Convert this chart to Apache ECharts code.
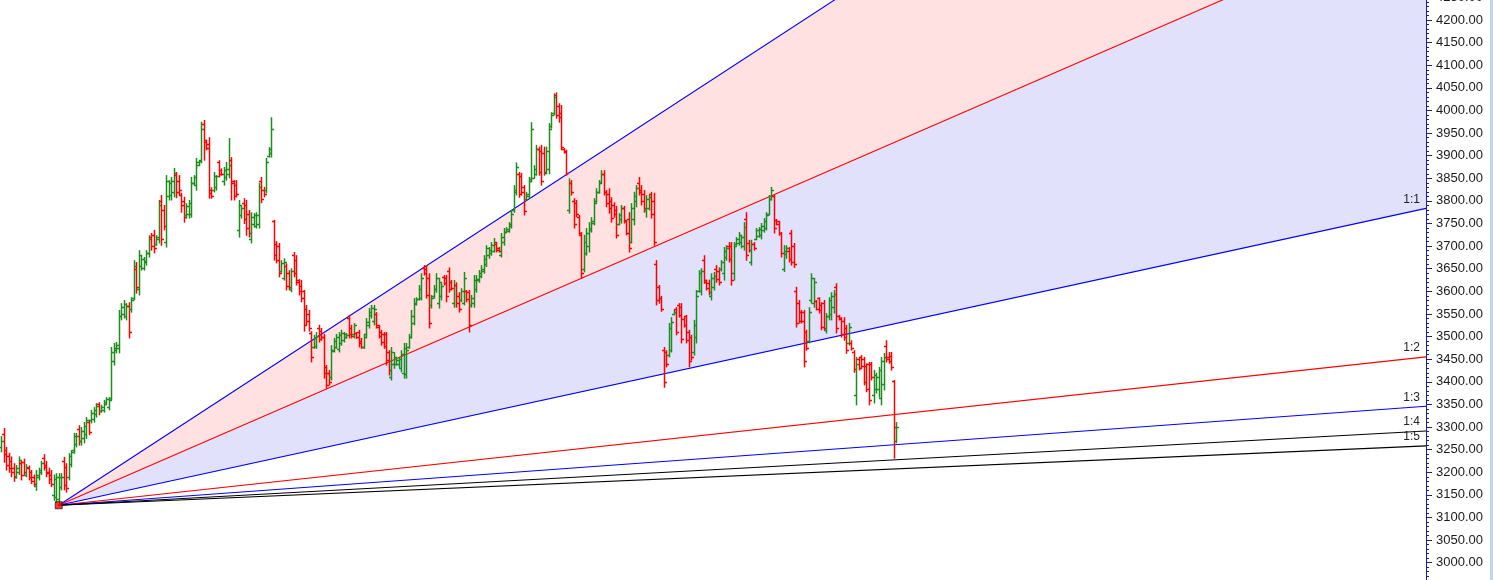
<!DOCTYPE html>
<html>
<head>
<meta charset="utf-8">
<script src="https://cdn.jsdelivr.net/npm/echarts@6/dist/echarts.min.js"></script>
<style>
html,body{margin:0;padding:0;background:#fff;}
#chart{width:1493px;height:580px;}
</style>
</head>
<body>
<div id="chart"></div>
<script>
// OHLC bars: [open, high, low, close]
const bars = [
[3255,3280,3245,3270],[3285,3298,3222,3240],[3250,3256,3205,3215],[3235,3243,3200,3210],[3225,3235,3190,3200],
[3210,3220,3180,3190],[3192,3216,3187,3210],[3200,3235,3195,3228],[3220,3225,3183,3195],[3222,3230,3195,3200],
[3195,3218,3190,3212],[3210,3215,3183,3190],[3200,3205,3175,3180],[3190,3195,3170,3175],[3170,3205,3160,3195],
[3190,3210,3183,3205],[3200,3225,3195,3220],[3232,3240,3205,3212],[3215,3225,3190,3198],[3200,3210,3175,3185],
[3195,3205,3168,3175],[3150,3195,3138,3185],[3145,3198,3133,3190],[3140,3198,3127,3190],[3168,3198,3161,3190],
[3225,3234,3161,3172],[3212,3220,3156,3165],[3190,3242,3183,3236],[3218,3249,3212,3244],[3250,3287,3242,3280],
[3262,3287,3256,3280],[3296,3304,3260,3270],[3268,3300,3260,3292],[3275,3311,3265,3302],[3285,3322,3275,3315],
[3310,3316,3283,3290],[3315,3338,3309,3332],[3318,3344,3311,3338],[3328,3353,3322,3346],[3350,3355,3327,3335],
[3336,3349,3333,3345],[3338,3360,3333,3355],[3352,3366,3349,3362],[3345,3366,3338,3360],[3365,3477,3360,3465],
[3445,3486,3437,3475],[3470,3488,3464,3482],[3475,3559,3464,3545],[3545,3574,3537,3565],[3550,3581,3541,3572],
[3545,3574,3537,3568],[3568,3576,3497,3510],[3560,3587,3554,3580],[3585,3669,3581,3655],[3650,3665,3596,3610],
[3605,3691,3592,3680],[3655,3680,3647,3672],[3652,3676,3647,3668],[3665,3691,3658,3685],[3685,3724,3676,3715],
[3720,3729,3691,3700],[3725,3736,3685,3695],[3705,3724,3702,3720],[3715,3802,3707,3790],[3800,3813,3702,3715],
[3780,3791,3736,3745],[3710,3857,3698,3845],[3810,3846,3802,3840],[3812,3853,3802,3845],[3820,3873,3809,3862],
[3858,3864,3807,3820],[3845,3857,3813,3825],[3812,3818,3775,3790],[3800,3809,3753,3765],[3768,3795,3762,3788],
[3770,3802,3762,3795],[3770,3853,3764,3840],[3840,3857,3835,3852],[3835,3895,3824,3885],[3880,3890,3878,3888],
[3890,3975,3884,3960],[3970,3979,3890,3935],[3930,3935,3913,3918],[3925,3941,3806,3818],[3825,3830,3806,3810],
[3825,3864,3820,3855],[3830,3857,3824,3855],[3885,3890,3853,3860],[3868,3872,3857,3860],[3845,3875,3835,3868],
[3852,3886,3846,3870],[3860,3939,3851,3880],[3890,3897,3802,3845],[3840,3846,3802,3810],[3835,3846,3809,3815],
[3735,3802,3720,3790],[3768,3791,3762,3785],[3795,3806,3750,3760],[3790,3802,3724,3740],[3770,3780,3720,3730],
[3715,3775,3707,3765],[3748,3773,3742,3768],[3745,3775,3740,3768],[3750,3840,3740,3830],[3845,3853,3796,3805],
[3825,3831,3809,3815],[3825,3895,3818,3885],[3900,3919,3897,3915],[3905,3985,3897,3960],[3755,3758,3669,3680],
[3705,3711,3663,3670],[3700,3707,3632,3640],[3645,3669,3642,3662],[3630,3673,3625,3665],[3655,3662,3603,3612],
[3640,3647,3603,3610],[3605,3651,3599,3645],[3680,3687,3632,3640],[3670,3680,3614,3625],[3620,3627,3592,3600],
[3612,3625,3577,3585],[3600,3603,3512,3525],[3560,3570,3526,3535],[3550,3559,3512,3518],[3508,3512,3444,3455],
[3478,3504,3474,3496],[3480,3510,3474,3502],[3520,3526,3488,3494],[3512,3519,3492,3498],[3500,3506,3408,3420],
[3432,3437,3386,3392],[3420,3426,3393,3400],[3410,3481,3404,3470],[3468,3497,3466,3490],[3478,3506,3474,3500],
[3472,3510,3466,3503],[3485,3515,3481,3508],[3492,3510,3488,3505],[3498,3508,3496,3504],[3540,3548,3497,3505],
[3520,3526,3497,3502],[3505,3530,3497,3525],[3508,3510,3496,3498],[3510,3515,3477,3485],[3490,3497,3474,3478],
[3478,3506,3474,3500],[3505,3541,3497,3532],[3525,3563,3519,3555],[3548,3570,3541,3563],[3535,3570,3526,3562],
[3550,3554,3519,3525],[3522,3526,3497,3502],[3510,3515,3481,3488],[3505,3510,3474,3480],[3505,3510,3437,3448],
[3465,3470,3415,3425],[3410,3477,3404,3465],[3440,3466,3430,3455],[3440,3453,3437,3448],[3440,3455,3432,3450],
[3430,3470,3422,3462],[3420,3486,3408,3475],[3418,3486,3408,3470],[3478,3506,3474,3500],[3500,3559,3497,3545],
[3530,3585,3526,3575],[3573,3587,3570,3582],[3582,3614,3581,3605],[3585,3640,3581,3630],[3652,3658,3636,3640],
[3650,3658,3585,3592],[3630,3640,3519,3530],[3570,3592,3563,3585],[3590,3614,3585,3605],[3605,3640,3598,3630],
[3575,3630,3563,3620],[3590,3620,3581,3612],[3632,3636,3614,3618],[3630,3636,3577,3590],[3645,3653,3598,3605],
[3620,3625,3603,3607],[3575,3625,3565,3615],[3615,3620,3565,3575],[3590,3598,3554,3560],[3580,3607,3577,3600],
[3575,3643,3570,3630],[3600,3603,3577,3582],[3598,3603,3510,3525],[3570,3592,3565,3585],[3575,3636,3565,3625],
[3605,3636,3598,3628],[3625,3647,3620,3640],[3635,3658,3630,3650],[3645,3680,3640,3672],[3660,3702,3655,3695],
[3680,3698,3673,3692],[3685,3709,3680,3702],[3690,3718,3687,3710],[3705,3709,3687,3692],[3695,3698,3687,3690],
[3680,3729,3676,3720],[3710,3740,3702,3732],[3732,3742,3731,3738],[3733,3753,3731,3748],[3745,3780,3740,3772],
[3780,3835,3775,3825],[3820,3885,3813,3875],[3860,3864,3808,3815],[3855,3862,3813,3820],[3830,3835,3769,3778],
[3805,3820,3802,3815],[3810,3853,3806,3845],[3848,3974,3842,3960],[3850,3879,3850,3870],[3860,3924,3857,3915],
[3915,3920,3857,3865],[3910,3924,3835,3845],[3905,3920,3857,3865],[3862,3920,3860,3910],[3870,3972,3860,3960],
[3965,3996,3961,3990],[3995,4038,3990,4030],[4035,4040,3983,3990],[4010,4016,3974,3985],[3995,4012,3913,3920],
[3915,3917,3906,3908],[3910,3913,3857,3862],[3780,3850,3773,3840],[3840,3846,3813,3820],[3800,3806,3740,3750],
[3795,3802,3765,3770],[3765,3769,3725,3730],[3725,3731,3629,3640],[3650,3725,3643,3710],[3685,3740,3680,3730],
[3700,3753,3687,3740],[3735,3764,3731,3755],[3752,3806,3747,3795],[3800,3828,3797,3820],[3820,3846,3817,3840],
[3842,3868,3839,3860],[3860,3868,3813,3820],[3820,3824,3787,3795],[3815,3828,3773,3785],[3800,3808,3753,3762],
[3790,3797,3764,3770],[3780,3789,3718,3725],[3750,3773,3747,3768],[3760,3791,3751,3785],[3785,3789,3751,3758],
[3755,3758,3725,3730],[3760,3775,3687,3695],[3710,3795,3707,3785],[3760,3820,3747,3810],[3800,3835,3787,3828],
[3840,3853,3813,3820],[3825,3835,3791,3800],[3815,3824,3775,3785],[3780,3813,3764,3805],[3785,3813,3780,3808],
[3815,3820,3762,3770],[3800,3818,3702,3710],[3660,3669,3570,3580],[3610,3614,3574,3585],[3585,3590,3556,3562],
[3470,3477,3388,3400],[3465,3470,3433,3440],[3460,3530,3455,3520],[3470,3543,3466,3532],[3550,3559,3548,3555],
[3560,3565,3504,3510],[3570,3574,3543,3548],[3565,3574,3486,3495],[3538,3543,3521,3526],[3545,3548,3486,3492],
[3510,3515,3433,3445],[3500,3504,3448,3455],[3465,3537,3459,3525],[3500,3603,3486,3590],[3600,3647,3599,3640],
[3600,3651,3592,3645],[3670,3680,3618,3625],[3620,3626,3603,3608],[3618,3626,3592,3598],[3590,3640,3581,3630],
[3610,3643,3603,3635],[3650,3658,3620,3628],[3645,3653,3614,3620],[3650,3669,3645,3665],[3640,3698,3625,3690],
[3675,3702,3669,3695],[3700,3709,3665,3672],[3700,3709,3614,3625],[3640,3709,3625,3700],[3705,3720,3702,3715],
[3708,3731,3702,3725],[3710,3725,3696,3720],[3700,3753,3691,3742],[3760,3775,3669,3680],[3708,3714,3687,3692],
[3665,3714,3658,3705],[3705,3709,3691,3695],[3716,3740,3714,3735],[3722,3742,3720,3738],[3725,3751,3716,3745],
[3735,3762,3731,3755],[3740,3775,3736,3768],[3772,3813,3769,3805],[3805,3831,3802,3825],[3810,3813,3729,3740],
[3758,3760,3747,3750],[3755,3756,3724,3730],[3730,3731,3676,3685],[3650,3702,3644,3690],[3682,3702,3673,3695],
[3690,3698,3665,3672],[3730,3736,3658,3665],[3700,3707,3653,3660],[3600,3610,3521,3530],[3575,3581,3530,3535],
[3555,3559,3530,3535],[3555,3559,3433,3445],[3510,3515,3470,3475],[3490,3565,3486,3555],[3580,3640,3574,3630],
[3575,3630,3565,3620],[3578,3581,3559,3562],[3585,3587,3552,3558],[3570,3576,3515,3522],[3575,3581,3515,3520],
[3515,3552,3508,3545],[3545,3587,3537,3580],[3550,3598,3537,3590],[3565,3603,3552,3595],[3610,3618,3508,3520],
[3545,3548,3537,3540],[3538,3543,3499,3505],[3535,3543,3492,3498],[3520,3526,3463,3470],[3485,3530,3481,3522],
[3485,3492,3470,3475],[3465,3470,3421,3428],[3370,3455,3349,3440],[3450,3455,3426,3430],[3455,3459,3430,3435],
[3450,3455,3393,3400],[3435,3441,3378,3385],[3440,3444,3349,3360],[3440,3444,3404,3410],[3370,3426,3353,3415],
[3385,3420,3375,3410],[3385,3433,3366,3425],[3365,3455,3349,3445],[3395,3464,3382,3455],[3480,3492,3444,3450],
[3455,3466,3441,3445],[3458,3466,3426,3432],[3402,3404,3231,3300],[3270,3311,3265,3300]
];

// Gann fan: origin bar index/price, price per bar of 1:1, ratios and labels
const fanOriginIndex = 23;
const fanOriginPrice = 3127;
const fanUnit = 1.2;
const fanRatios = [3, 2, 1, 1/2, 1/3, 1/4, 1/5];
const fanNames  = ['3:1', '2:1', '1:1', '1:2', '1:3', '1:4', '1:5'];
const fanShownLabels = ['1:1', '1:2', '1:3', '1:4', '1:5'];
const slotCount = 570;   // bar slots across the plot (incl. empty future area)

// y axis
const yMin = 2950, yMax = 4250, yStep = 50;

const GREEN = '#1c8c1c', RED = '#ff0000', BLUE = '#0000ff', BLACK = '#000000';
const fanColors = [BLUE, RED, BLUE, RED, BLUE, BLACK, BLACK];

const endIdx = slotCount;
function fanPrice(r, idx) { return fanOriginPrice + r * fanUnit * (idx - fanOriginIndex); }

const ohlcData = bars.map((b, i) => [i, b[0], b[1], b[2], b[3]]);

function renderOHLC(params, api) {
  const i = api.value(0);
  const po = api.coord([i, api.value(1)]);
  const ph = api.coord([i, api.value(2)]);
  const pl = api.coord([i, api.value(3)]);
  const pc = api.coord([i, api.value(4)]);
  const color = api.value(4) >= api.value(1) ? GREEN : RED;
  const x = Math.round(po[0]) + 0.5;
  const st = { stroke: color, lineWidth: 1.5 };
  return {
    type: 'group',
    children: [
      { type: 'line', shape: { x1: x, y1: ph[1], x2: x, y2: pl[1] + 0.5 }, style: st },
      { type: 'line', shape: { x1: x - 2.5, y1: Math.round(po[1]) + 0.5, x2: x, y2: Math.round(po[1]) + 0.5 }, style: st },
      { type: 'line', shape: { x1: x, y1: Math.round(pc[1]) + 0.5, x2: x + 2.5, y2: Math.round(pc[1]) + 0.5 }, style: st }
    ]
  };
}

// fills: [upper ratio, lower ratio, colour]
const fills = [[3, 2, '#ffe1e1'], [2, 1, '#e1e1fc']];
function renderFill(params, api) {
  const f = fills[params.dataIndex];
  const o = api.coord([fanOriginIndex, fanOriginPrice]);
  const a = api.coord([endIdx, fanPrice(f[0], endIdx)]);
  const b = api.coord([endIdx, fanPrice(f[1], endIdx)]);
  return { type: 'polygon', shape: { points: [o, a, b] }, style: { fill: f[2] } };
}

function renderLabel(params, api) {
  const name = fanShownLabels[params.dataIndex];
  const r = fanRatios[fanNames.indexOf(name)];
  const p = api.coord([endIdx, fanPrice(r, endIdx)]);
  return {
    type: 'text', x: p[0] - 6, y: p[1] - 3,
    style: { text: name, align: 'right', verticalAlign: 'bottom', fill: '#222', font: '12px "Liberation Sans", Arial, sans-serif' }
  };
}

const series = [
  { type: 'custom', renderItem: renderFill, data: fills.map((f, i) => [i]), clip: true, silent: true, z: 1 }
];
fanRatios.forEach((r, k) => {
  series.push({
    type: 'line', name: fanNames[k], silent: true, symbol: 'none', clip: true, z: 3,
    lineStyle: { color: fanColors[k], width: 1.1 },
    data: [[fanOriginIndex, fanOriginPrice], [endIdx, fanPrice(r, endIdx)]]
  });
});
series.push({ type: 'custom', renderItem: renderOHLC, data: ohlcData, encode: { x: 0, y: [1, 2, 3, 4] }, clip: true, z: 4 });
series.push({ type: 'custom', renderItem: renderLabel, data: fanShownLabels.map((s, i) => [i]), z: 5, silent: true });
series.push({
  type: 'scatter', data: [[fanOriginIndex, fanOriginPrice]], symbol: 'rect', symbolSize: 7, z: 6,
  itemStyle: { color: '#ff0000', borderColor: '#202020', borderWidth: 1 }
});

const chart = echarts.init(document.getElementById('chart'), null, { renderer: 'canvas' });
chart.setOption({
  animation: false,
  backgroundColor: '#ffffff',
  grid: { left: 0, right: 67, top: -2.6, bottom: -5.3, containLabel: false, outerBoundsMode: 'none' },
  xAxis: { type: 'value', min: -0.5, max: slotCount, show: false },
  yAxis: {
    type: 'value', position: 'right', min: yMin, max: yMax, interval: yStep,
    axisLine: { show: true, onZero: false, lineStyle: { color: '#1e1e8a', width: 1 } },
    axisTick: { show: true, length: 6, lineStyle: { color: '#1e1e8a' } },
    minorTick: { show: true, splitNumber: 5, length: 3, lineStyle: { color: '#1e1e8a' } },
    splitLine: { show: false },
    axisLabel: { margin: 10, color: '#1a1a1a', fontSize: 13, fontFamily: '"Liberation Sans", Arial, sans-serif',
      formatter: v => v.toFixed(2) }
  },
  graphic: [{ type: 'rect', shape: { x: 1490, y: 0, width: 3, height: 580 }, style: { fill: '#bcd4ee' }, silent: true }],
  series: series
});
</script>
</body>
</html>
